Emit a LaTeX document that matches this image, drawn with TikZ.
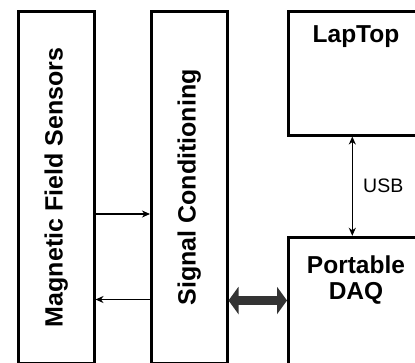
\documentclass[tikz,border=0pt]{standalone}
\usepackage{fontspec}
\setsansfont{Liberation Sans}
\usepackage{tikz}
\definecolor{busgray}{HTML}{333333}
\usetikzlibrary{arrows.meta}
\usetikzlibrary{positioning}
\tikzstyle{box}=[draw=black, line width=3pt, inner sep=0pt, font={\sffamily\bfseries\fontsize{25}{26.5}\selectfont}]
\tikzstyle{title}=[font={\sffamily\bfseries\fontsize{24.5}{26.5}\selectfont}, align=center]
\tikzstyle{link}=[->, >={Stealth[length=8pt, width=7pt, inset=2.5pt]}, line width=1.2pt]
\tikzstyle{bus}=[{Triangle[length=10pt, width=27pt]}-{Triangle[length=10pt, width=27pt]}, line width=9pt, busgray]

\begin{document}
\begin{tikzpicture}[x=1pt, y=-1pt]

    \useasboundingbox (0, 0) rectangle (415, 362);
    \clip (0, 0) rectangle (415, 362);

    % rotated boxes: south is the right side, north the left side
    \node[box, rotate=90, minimum width=352pt, minimum height=75.5pt] (sensors) at (56.25, 187.5) {Magnetic Field Sensors};
    \node[box, rotate=90, minimum width=352pt, minimum height=75.5pt] (sc) at (189.25, 187.5) {Signal Conditioning};
    \node[box, minimum width=135pt, minimum height=123.5pt] (laptop) at (356, 73.25) {};
    \node[box, minimum width=135pt, minimum height=162.7pt] (daq) at (356, 318.65) {};

    \node[title, below=12pt of laptop.north] (laptoptext) {LapTop};
    \node[title, below=16pt of daq.north] (daqtext) {Portable\\DAQ};

    \draw[link] (sensors.south |- 0,214) -- (sc.north |- 0,214);
    \draw[link] (sc.north |- 0,299.5) -- (sensors.south |- 0,299.5);
    \draw[bus] (sc.south |- 0,300.5) -- (daq.west |- 0,300.5);
    \draw[link, <->] (laptop.south -| 352.3,0) -- (daq.north -| 352.3,0) node[midway, right=7pt, font={\sffamily\fontsize{19.5}{22}\selectfont}] (usb) {USB};

\end{tikzpicture}
\end{document}
